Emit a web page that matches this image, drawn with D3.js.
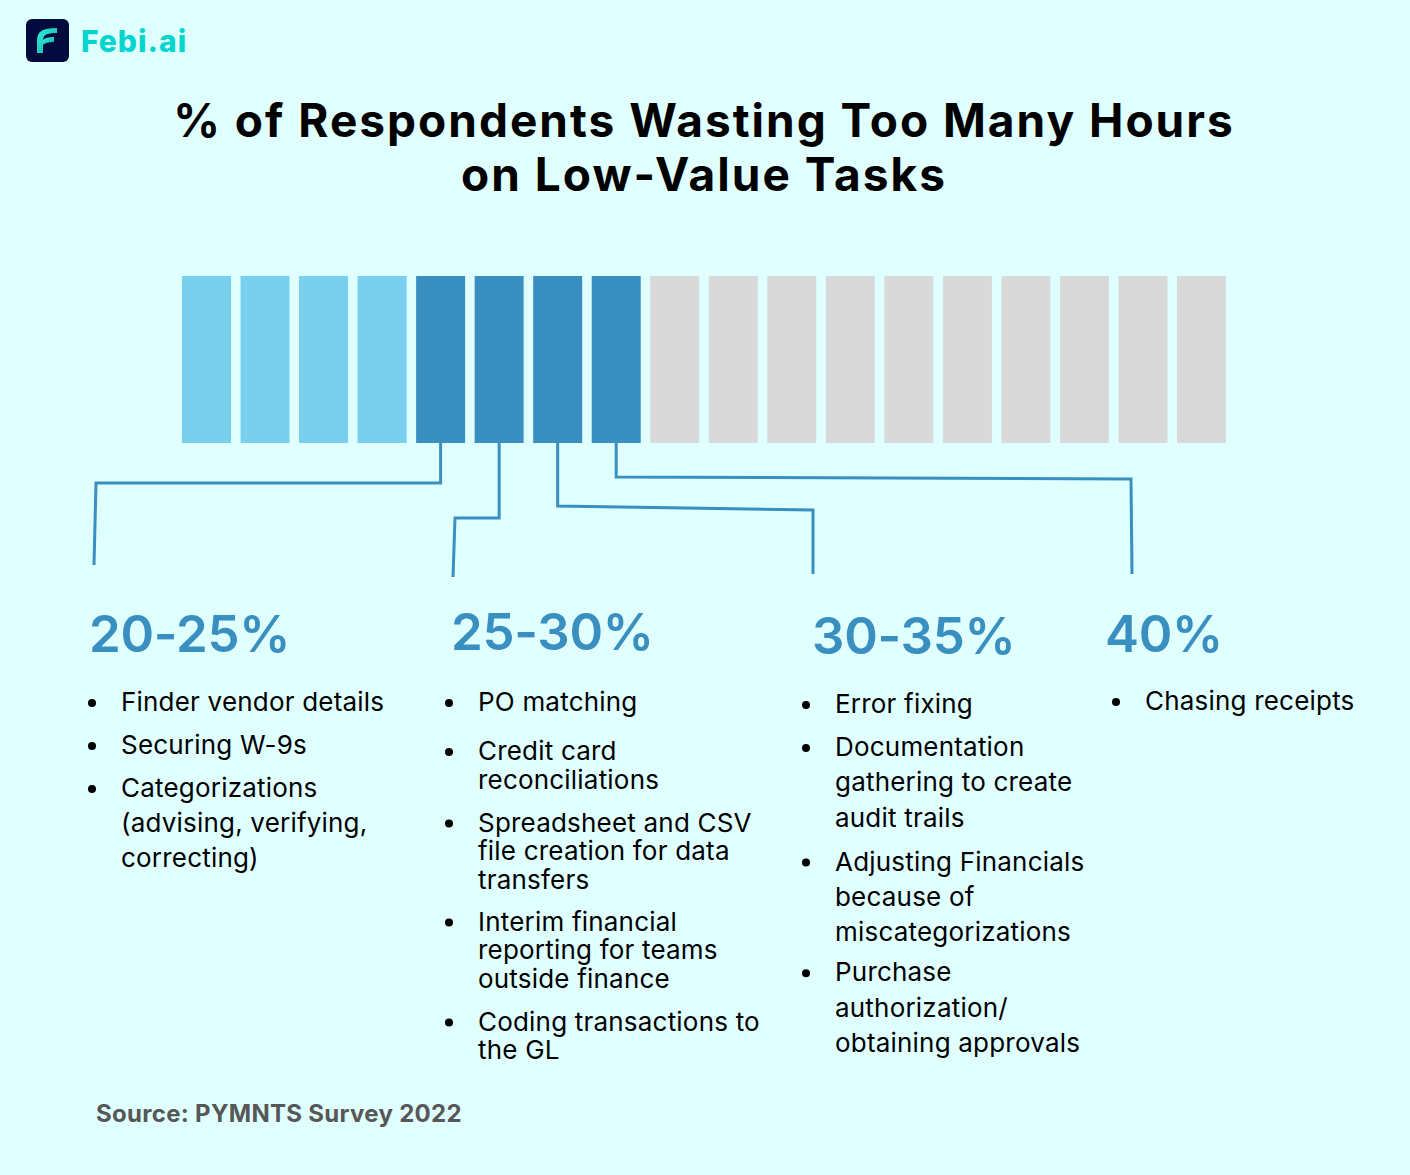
<!DOCTYPE html>
<html>
<head>
<meta charset="utf-8">
<script src="https://cdn.jsdelivr.net/npm/d3@7"></script>
<style>
  html, body { margin: 0; padding: 0; background: #e0ffff; }
  svg { display: block; }
</style>
</head>
<body>
<div id="chart"></div>
<script>
// ---------------- DATA ----------------
const titleLines = ["% of Respondents Wasting Too Many Hours", "on Low-Value Tasks"];
const brandName = "Febi.ai";
const sourceText = "Source: PYMNTS Survey 2022";

// 18 units of the waffle strip (each unit ≈ one slice of respondents)
const unitIds = ["u1","u2","u3","u4","u5","u6","u7","u8","u9","u10","u11","u12","u13","u14","u15","u16","u17","u18"];
const unitGroups = ["base","base","base","base","range","range","range","range",
                    "rest","rest","rest","rest","rest","rest","rest","rest","rest","rest"];

// the four share ranges, each linked to one unit of the strip
const rangeLabels = ["20-25%", "25-30%", "30-35%", "40%"];
const rangeUnit = ["u5", "u6", "u7", "u8"];
const rangeItems = [
  [["Finder vendor details"], ["Securing W-9s"], ["Categorizations", "(advising, verifying,", "correcting)"]],
  [["PO matching"], ["Credit card", "reconciliations"], ["Spreadsheet and CSV", "file creation for data", "transfers"],
   ["Interim financial", "reporting for teams", "outside finance"], ["Coding transactions to", "the GL"]],
  [["Error fixing"], ["Documentation", "gathering to create", "audit trails"], ["Adjusting Financials", "because of", "miscategorizations"],
   ["Purchase", "authorization/", "obtaining approvals"]],
  [["Chasing receipts"]]
];

// ---------------- LAYOUT / STYLE ----------------
const W = 1410, H = 1175;
const colors = { bg: "#e0ffff", base: "#78cfee", range: "#3a8fc1", rest: "#d9d9d9",
                 line: "#3a8fc1", text: "#000000", source: "#575757", brand: "#00d6cf", logoBg: "#030a3d" };
const FONT = "Inter, 'Open Sans', sans-serif";

// connector shapes: elbow y, column x and end y (layout only)
const connectorLayout = [
  { elbowY: 483, elbowY2: 483, endX: 96, endX2: 94, endY: 565 },
  { elbowY: 518, elbowY2: 518, endX: 455, endX2: 453, endY: 577 },
  { elbowY: 506, elbowY2: 510, endX: 813, endX2: 813, endY: 574 },
  { elbowY: 477, elbowY2: 479, endX: 1131, endX2: 1132, endY: 574 }
];
const columnLayout = [
  { headX: 89,   headY: 652, bulletX: 92,   textX: 121,  startY: 711, lh: 35,   gaps: [43, 43] },
  { headX: 451,  headY: 650, bulletX: 449,  textX: 478,  startY: 711, lh: 28.5, gaps: [49, 43, 42, 43] },
  { headX: 812,  headY: 654, bulletX: 806,  textX: 835,  startY: 713, lh: 35.3, gaps: [43, 44, 40] },
  { headX: 1105, headY: 652, bulletX: 1116, textX: 1145, startY: 710, lh: 35,   gaps: [] }
];

const svg = d3.select("#chart").append("svg")
  .attr("width", W).attr("height", H)
  .attr("viewBox", `0 0 ${W} ${H}`);

svg.append("rect").attr("width", W).attr("height", H).attr("fill", colors.bg);

// ---------------- LOGO ----------------
const defs = svg.append("defs");
const grad = defs.append("linearGradient").attr("id", "fgrad")
  .attr("x1", "0%").attr("y1", "0%").attr("x2", "100%").attr("y2", "100%");
grad.append("stop").attr("offset", "0%").attr("stop-color", "#2ff3dc");
grad.append("stop").attr("offset", "100%").attr("stop-color", "#13a9a4");

const logo = svg.append("g");
logo.append("rect").attr("x", 26).attr("y", 19).attr("width", 43).attr("height", 43)
  .attr("rx", 6).attr("fill", colors.logoBg);
logo.append("path")
  .attr("d", "M37,53 L37,41 C37,31 43,28 57,28 L57,33 C46,33 43,35 43,41 L43,53 Z")
  .attr("fill", "url(#fgrad)");
logo.append("path")
  .attr("d", "M43,40 C45,38 48,37 54,37 L54,42 C48,42 45,43 43,45 Z")
  .attr("fill", "url(#fgrad)");
logo.append("text").attr("x", 81).attr("y", 52)
  .attr("font-family", FONT).attr("font-weight", 800).attr("font-size", 30)
  .attr("letter-spacing", 1)
  .attr("fill", colors.brand).text(brandName);

// ---------------- TITLE ----------------
svg.append("g").selectAll("text").data(titleLines).join("text")
  .attr("x", 704).attr("y", (d, i) => 137 + i * 54)
  .attr("text-anchor", "middle")
  .attr("font-family", FONT).attr("font-weight", 700).attr("font-size", 46)
  .attr("letter-spacing", 2)
  .attr("fill", "#000")
  .text(d => d);

// ---------------- STRIP ----------------
const x = d3.scaleBand().domain(unitIds).range([182, 1226]).paddingInner(0.163).paddingOuter(0);
const y = d3.scaleLinear().domain([0, 1]).range([443, 276]);
const color = d3.scaleOrdinal().domain(["base", "range", "rest"]).range([colors.base, colors.range, colors.rest]);

svg.append("g").selectAll("rect").data(unitIds).join("rect")
  .attr("x", d => x(d)).attr("y", y(1))
  .attr("width", x.bandwidth()).attr("height", y(0) - y(1))
  .attr("fill", (d, i) => color(unitGroups[i]));

// ---------------- CONNECTORS ----------------
svg.append("g").selectAll("path").data(rangeUnit).join("path")
  .attr("fill", "none").attr("stroke", colors.line).attr("stroke-width", 3)
  .attr("stroke-linejoin", "miter")
  .attr("d", (u, i) => {
    const c = connectorLayout[i];
    const cx = x(u) + x.bandwidth() / 2;
    return `M${cx},${y(0)} L${cx},${c.elbowY} L${c.endX},${c.elbowY2} L${c.endX2},${c.endY}`;
  });

// ---------------- TEXT COLUMNS ----------------
rangeLabels.forEach((label, ci) => {
  const L = columnLayout[ci];
  const g = svg.append("g");
  g.append("text").attr("x", L.headX).attr("y", L.headY)
    .attr("font-family", FONT).attr("font-weight", 600).attr("font-size", 51)
    .attr("letter-spacing", -0.3)
    .attr("fill", colors.line).text(label);

  let yy = L.startY;
  rangeItems[ci].forEach((item, ii) => {
    g.append("circle").attr("cx", L.bulletX).attr("cy", yy - 8).attr("r", 4).attr("fill", colors.text);
    const t = g.append("text").attr("font-family", FONT).attr("font-weight", 400)
      .attr("font-size", 26).attr("letter-spacing", 0.2).attr("fill", colors.text);
    t.selectAll("tspan").data(item).join("tspan")
      .attr("x", L.textX).attr("y", (d, k) => yy + k * L.lh).text(d => d);
    yy += (item.length - 1) * L.lh + (L.gaps[ii] || 0);
  });
});

// ---------------- SOURCE ----------------
svg.append("text").attr("x", 96).attr("y", 1122)
  .attr("font-family", FONT).attr("font-weight", 700).attr("font-size", 24)
  .attr("letter-spacing", 0.3)
  .attr("fill", colors.source).text(sourceText);
</script>
</body>
</html>
